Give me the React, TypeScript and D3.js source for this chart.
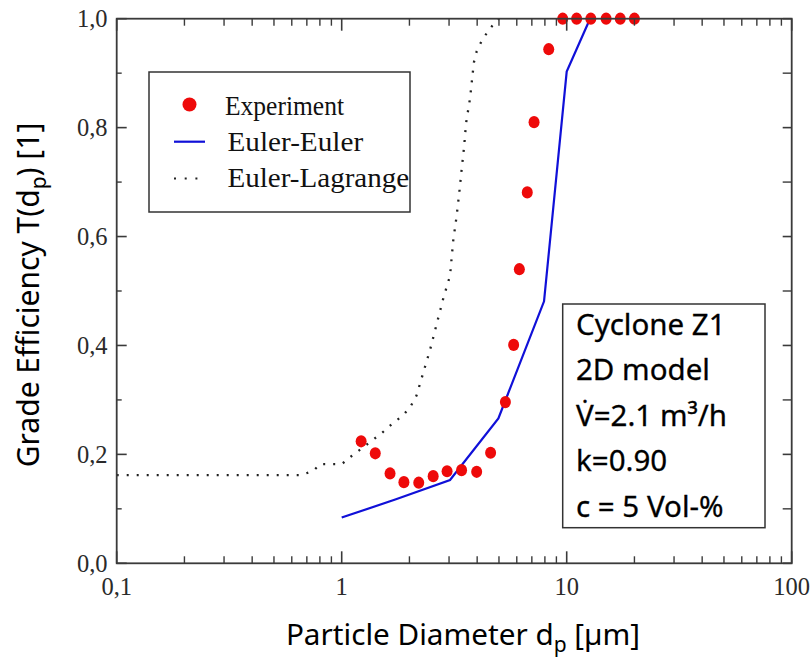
import React from "react";
import * as d3 from "d3";

// Experiment (red dots)
const expX = [1.22, 1.41, 1.64, 1.89, 2.2, 2.55, 2.94, 3.41, 3.98, 4.59, 5.34, 5.81, 6.16, 6.68, 7.16, 8.32, 9.6, 11.07, 12.8, 14.97, 17.3, 20.0];
const expY = [0.224, 0.202, 0.165, 0.149, 0.148, 0.16, 0.169, 0.171, 0.168, 0.203, 0.296, 0.401, 0.54, 0.681, 0.81, 0.944, 1, 1, 1, 1, 1, 1];

// Euler-Euler (blue line)
const eeX = [1.0, 1.73, 3.03, 4.97, 7.93, 10.0, 12.7];
const eeY = [0.084, 0.117, 0.153, 0.266, 0.481, 0.903, 1.0];

// Euler-Lagrange (dotted line)
const elX = [0.1, 0.66, 0.75, 0.8, 1.0, 1.107, 1.227, 1.37, 1.515, 1.685, 1.88, 2.03, 2.15, 2.47, 2.83, 3.03, 3.13, 3.24, 3.33, 3.41, 3.5, 3.57, 3.65, 3.72, 3.82, 3.87, 3.98, 4.23, 4.67, 5.0];
const elY = [0.162, 0.162, 0.17, 0.182, 0.182, 0.197, 0.211, 0.226, 0.24, 0.257, 0.272, 0.289, 0.308, 0.392, 0.487, 0.528, 0.592, 0.637, 0.68, 0.722, 0.765, 0.808, 0.833, 0.854, 0.899, 0.92, 0.94, 0.963, 0.987, 1.0];

const xTickLabels = ["0,1", "1", "10", "100"];
const xMajor = [0.1, 1, 10, 100];
const yMajor = [0, 0.2, 0.4, 0.6, 0.8, 1.0];
const yTickLabels = ["0,0", "0,2", "0,4", "0,6", "0,8", "1,0"];
const yMinor = [0.1, 0.3, 0.5, 0.7, 0.9];

const legendLabels = ["Experiment", "Euler-Euler", "Euler-Lagrange"];
const legendWidths = [119, 135.6, 181.7];
const infoLines = ["Cyclone Z1", "2D model", "V\u0307=2.1 m\u00B3/h", "k=0.90", "c = 5 Vol-%"];

export default function App() {
  const W = 811, H = 660;
  const L = 116.7, R = 791.7, T = 18.7, B = 563.3;
  const x = d3.scaleLog().domain([0.1, 100]).range([L, R]);
  const y = d3.scaleLinear().domain([0, 1]).range([B, T]);

  const xMinor: number[] = [];
  [0.1, 1, 10].forEach((d) => {
    for (let k = 2; k <= 9; k++) xMinor.push(d * k);
  });

  const line = d3.line<[number, number]>().x((d) => x(d[0])).y((d) => y(d[1]));
  const eePath = line(eeX.map((v, i) => [v, eeY[i]]) as [number, number][]) || "";
  const elPath = line(elX.map((v, i) => [v, elY[i]]) as [number, number][]) || "";

  const axisColor = "#3a3a3a";
  const serif = "'Liberation Serif', 'Times New Roman', serif";
  const sans = "'Noto Sans', 'DejaVu Sans', sans-serif";

  return (
    <svg width={W} height={H} style={{ position: "absolute", left: 0, top: 0, background: "#fff" }}>
      {/* data */}
      <path d={elPath} fill="none" stroke="#222" strokeWidth={2.3} strokeDasharray="2 8" />
      <path d={eePath} fill="none" stroke="#1010d8" strokeWidth={2.2} />
      {expX.map((v, i) => (
        <ellipse key={i} cx={x(v)} cy={y(expY[i])} rx={5.5} ry={6.1} fill="#ee0a0a" />
      ))}

      {/* frame */}
      <rect x={L} y={T} width={R - L} height={B - T} fill="none" stroke={axisColor} strokeWidth={1.8} />
      {/* x ticks */}
      {xMajor.map((v) => (
        <g key={"xm" + v}>
          <line x1={x(v)} x2={x(v)} y1={B} y2={B - 12} stroke={axisColor} strokeWidth={1.6} />
          <line x1={x(v)} x2={x(v)} y1={T} y2={T + 12} stroke={axisColor} strokeWidth={1.6} />
        </g>
      ))}
      {xMinor.map((v) => (
        <g key={"xn" + v}>
          <line x1={x(v)} x2={x(v)} y1={B} y2={B - 7} stroke={axisColor} strokeWidth={1.4} />
          <line x1={x(v)} x2={x(v)} y1={T} y2={T + 7} stroke={axisColor} strokeWidth={1.4} />
        </g>
      ))}
      {/* y ticks */}
      {yMajor.map((v) => (
        <g key={"ym" + v}>
          <line x1={L} x2={L + 10} y1={y(v)} y2={y(v)} stroke={axisColor} strokeWidth={1.6} />
          <line x1={R} x2={R - 9} y1={y(v)} y2={y(v)} stroke={axisColor} strokeWidth={1.6} />
        </g>
      ))}
      {yMinor.map((v) => (
        <g key={"yn" + v}>
          <line x1={L} x2={L + 5} y1={y(v)} y2={y(v)} stroke={axisColor} strokeWidth={1.4} />
          <line x1={R} x2={R - 9} y1={y(v)} y2={y(v)} stroke={axisColor} strokeWidth={1.4} />
        </g>
      ))}

      {/* tick labels */}
      {xMajor.map((v, i) => (
        <text key={"xl" + v} x={x(v)} y={595} textAnchor="middle" fontFamily={serif} fontSize={24.5} fill="#2a2a2a">
          {xTickLabels[i]}
        </text>
      ))}
      {yMajor.map((v, i) => (
        <text key={"yl" + v} x={107.5} y={y(v) + 8.4} textAnchor="end" fontFamily={serif} fontSize={24.5} fill="#2a2a2a">
          {yTickLabels[i]}
        </text>
      ))}

      {/* axis titles */}
      <text x={463} y={645} textAnchor="middle" fontFamily={sans} fontSize={29.7} fill="#000">
        Particle Diameter d<tspan fontSize={21} dy={7}>p</tspan>
        <tspan dy={-7}> [µm]</tspan>
      </text>
      <text transform="translate(39,295) rotate(-90)" textAnchor="middle" fontFamily={sans} fontSize={30} fill="#000">
        Grade Efficiency T(d<tspan fontSize={21} dy={7}>p</tspan>
        <tspan dy={-7}>) [1]</tspan>
      </text>

      {/* legend */}
      <rect x={149} y={72} width={261} height={140} fill="#fff" stroke="#333" strokeWidth={1.5} />
      <circle cx={189.5} cy={104.5} r={7} fill="#ee0a0a" />
      <line x1={174} x2={205} y1={141.7} y2={141.7} stroke="#1010d8" strokeWidth={2.2} />
      <line x1={174} x2={202} y1={178.5} y2={178.5} stroke="#222" strokeWidth={2.2} strokeDasharray="2 8.7" />
      {legendLabels.map((s, i) => (
        <text
          key={s}
          x={225 + (i > 0 ? 2.5 : 0)}
          y={115 + i * 36}
          fontFamily={serif}
          fontSize={27}
          fill="#111"
          textLength={legendWidths[i]}
          lengthAdjust="spacingAndGlyphs"
        >
          {s}
        </text>
      ))}

      {/* info box */}
      <rect x={562.7} y={304} width={202.3} height={223.7} fill="#fff" stroke="#333" strokeWidth={1.5} />
      {infoLines.map((s, i) => (
        <text key={s} x={576} y={335 + i * 45.4} fontFamily={sans} fontSize={29.5} fill="#000" stroke="#000" strokeWidth={0.3}>
          {s}
        </text>
      ))}
    </svg>
  );
}
